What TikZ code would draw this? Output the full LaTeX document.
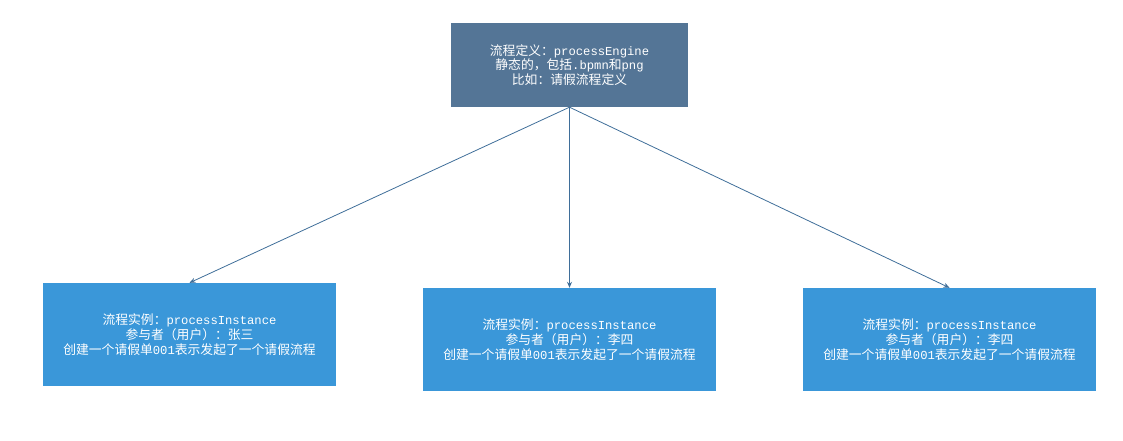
\documentclass[tikz,border=0pt]{standalone}
\usepackage{fontspec}
\usetikzlibrary{arrows.meta}
\newfontfamily\cjk{Noto Sans CJK SC}
\newfontfamily\mono{Liberation Mono}
\definecolor{topfill}{HTML}{547596}
\definecolor{boxfill}{HTML}{3A97D9}
\definecolor{linecol}{HTML}{3F6E99}
\begin{document}
\begin{tikzpicture}[x=1pt,y=-1pt,
  defbox/.style={fill=topfill,draw=none,text=white,align=center,inner sep=0pt,
    font=\cjk\fontsize{12.8}{14.6}\selectfont},
  instbox/.style={fill=boxfill,draw=none,text=white,align=center,inner sep=0pt,
    minimum width=293pt,minimum height=103pt,font=\cjk\fontsize{12.8}{14.8}\selectfont},
  conn/.style={draw=linecol,line width=0.8pt,-{Stealth[length=6pt,width=5pt]}}]
\useasboundingbox (0,0) rectangle (1123,440);
\node[defbox,minimum width=237pt,minimum height=84pt] (def) at (569.5,65) {流程定义：{\mono\fontsize{12.2}{14.6}\selectfont processEngine}\\静态的，包括{\mono\fontsize{12.2}{14.6}\selectfont .bpmn}和{\mono\fontsize{12.2}{14.6}\selectfont png}\\比如：请假流程定义};
\node[instbox] (i1) at (189.5,334.5) {流程实例：{\mono\fontsize{12.2}{14.8}\selectfont processInstance}\\参与者（用户）：张三\\创建一个请假单{\mono\fontsize{12.2}{14.8}\selectfont 001}表示发起了一个请假流程};
\node[instbox] (i2) at (569.5,339.5) {流程实例：{\mono\fontsize{12.2}{14.8}\selectfont processInstance}\\参与者（用户）：李四\\创建一个请假单{\mono\fontsize{12.2}{14.8}\selectfont 001}表示发起了一个请假流程};
\node[instbox] (i3) at (949.5,339.5) {流程实例：{\mono\fontsize{12.2}{14.8}\selectfont processInstance}\\参与者（用户）：李四\\创建一个请假单{\mono\fontsize{12.2}{14.8}\selectfont 001}表示发起了一个请假流程};
\coordinate (src) at (def.south);
\draw[conn] (src) -- (i1.north);
\draw[conn] (src) -- (i2.north);
\draw[conn] (src) -- (i3.north);
\end{tikzpicture}
\end{document}
